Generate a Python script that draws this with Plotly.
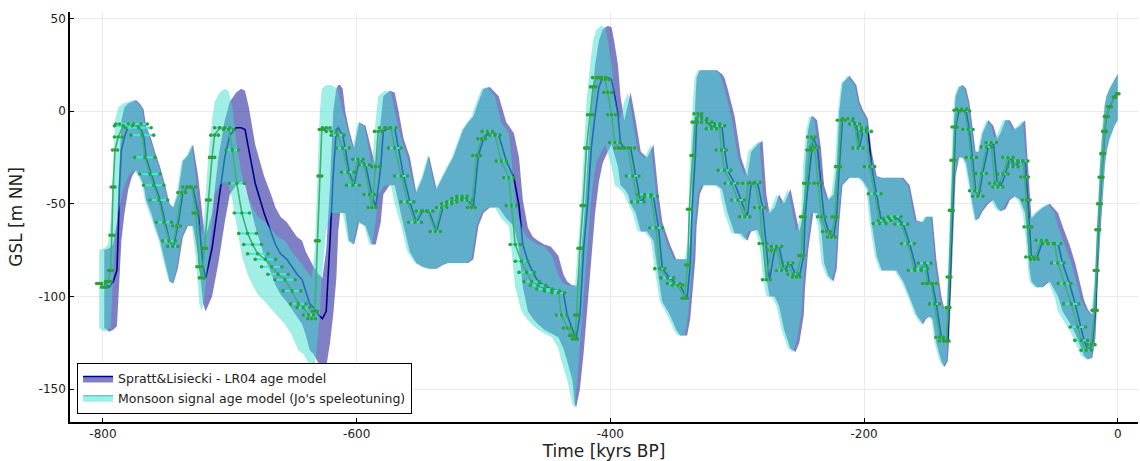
import plotly.graph_objects as go

# ---------------- data ----------------
# monsoon-signal (speleotuned) ages of each sample [kyr BP, negative = past]
mon_age = [
    -803, -799, -796, -794, -793, -792, -790.5, -788, -784, -780, -776, -772, -769, -767, -763, -760, -756, -752, -748, -745, -742, -738, -734, -730, -727, -724, -722, -720, -717, -714, -712, -708, -704, -701, -698, -694.5, -690.5, -686, -682, -678, -672, -667, -662, -656.5, -651, -646,
    -642, -638, -635.5, -633, -631, -629, -627.5, -624, -620, -615, -611, -607, -603, -599, -594, -590, -588, -585, -583, -578, -573, -570, -565, -560, -554, -549, -544, -538, -533, -529, -525, -521, -517, -513, -509.5, -505.5, -501.5, -497, -491, -486, -480,
    -478, -475, -470, -466, -462, -457, -452, -446, -441, -438.5, -434, -430, -428, -426.7, -424, -421.5, -418.8, -416, -413.6, -411, -407, -404, -402, -399, -396.5, -392.6, -389, -386, -382.4, -378.4, -373, -368, -364, -361, -355, -350, -346.9, -341.4, -339, -337.7, -335, -333.5, -331, -328, -324, -320.3, -317.7,
    -313.8, -312.5, -310, -304.6, -299.4, -294, -291.5, -286, -282.3, -279.7, -277, -273, -269, -265, -260, -256, -253.4, -249.5, -248.2, -245.5, -243, -241.5, -239, -236.3, -233.6, -229.7, -225.7, -223, -220.5, -218, -212.7, -207.4, -204.8, -202, -198.2, -195.6, -191.6, -187.7, -183.8, -180, -176, -170.6, -165.4, -160, -155, -152.2, -149.8,
    -147, -144.4, -140.4, -137.5, -135, -133.8, -133, -131.2, -129.9, -128.6, -126, -123, -120.7, -118, -115.4, -112.8, -110.3, -107.6, -103.6, -99.7, -97, -94.5, -90.5, -86.6, -82.6, -78.7, -74.8, -73.4, -72.1, -70.8, -69.5, -65.6, -60.3, -55, -49.8, -47.2, -41.9, -36.6, -31.4, -28.8, -24.8, -20.9, -18.2, -17, -15.7, -14.4, -13.1, -11.8, -10.4, -9, -6.5, -2.5, 0,
]

# LR04 (Spratt & Lisiecki) ages of the same samples
lr04_age = [
    -799, -795, -792, -789, -788, -787, -785.5, -783, -780, -777, -774, -771, -768, -766, -762, -759, -755, -751, -747.5, -744.5, -741, -737, -733, -729, -725, -721, -719, -714, -709, -704, -700, -695, -691, -688, -685, -680, -673, -667, -664, -660, -655, -651, -647, -643, -640, -637,
    -634, -630, -627, -624, -621, -618.5, -616, -614.5, -613, -611, -609, -606, -602, -598, -593, -588, -585, -581, -579, -574, -570, -567, -563, -558, -553, -548, -543, -537, -532, -528, -524, -520, -516, -512, -508, -504, -500, -495, -488, -482, -476,
    -472, -469, -465, -461, -457, -452, -447, -441, -437, -434, -430, -428, -427, -424, -421, -418, -415, -412, -409, -406, -402, -399, -397, -394, -392, -389, -386, -384, -380, -376, -371, -366, -362, -359, -353, -348, -345, -339.5, -337, -335.5, -333, -332, -329.5, -326.5, -322.5, -319, -316,
    -312, -310, -307.5, -302, -297, -292, -289, -284, -280, -277, -274.5, -270.5, -267, -263, -258, -254, -251, -247.5, -246.5, -244, -241.5, -240, -237, -234, -231.5, -228, -224, -221.5, -219.5, -217, -211.5, -206, -203.5, -200.5, -197, -194, -190, -186, -182, -178.5, -174.5, -169, -164, -158.5, -153.5, -151, -148.5,
    -146, -143, -139, -136.5, -134, -133, -132, -130.5, -129, -127.8, -125, -122, -119.5, -117, -114.5, -112, -109.5, -106.5, -102, -98, -95, -92.5, -88.5, -85, -81, -77, -73, -72, -71, -69.5, -68, -64, -59, -53.5, -47, -43.5, -38, -33.5, -29, -26.5, -23.5, -20, -17.5, -16.5, -15.2, -14, -12.8, -11.5, -10.2, -8.8, -6.4, -2.5, 0,
]

# global sea level, median [m]
gsl = [
    -93, -95, -92, -86, -67, -41, -21, -14, -8, -7, -7, -9, -13, -25, -34, -40, -48, -60, -70, -73, -62, -44, -41, -41, -55, -84, -90, -74, -48, -25, -13, -9, -9, -10, -21, -39, -55, -66, -72, -77, -80, -84, -88, -91, -97, -104,
    -106, -110, -112, -108, -70, -35, -10, -9, -11, -13, -20, -33, -40, -26, -29, -45, -52, -30, -11, -9, -9, -20, -35, -49, -60, -54, -54, -65, -52, -50, -49, -47, -46, -48, -52, -24, -15, -11, -13, -27, -36,
    -51, -72, -81, -87, -92, -94, -96, -97, -98, -110, -117, -121, -123, -110, -74, -51, -20, -2, 13, 18, 18, 17, 10, -2, -17, -20, -20, -20, -35, -49, -45, -46, -63, -85, -90, -93, -94, -101, -83, -53, -24, -6, -1.5, -4, -6, -9.5, -7,
    -8, -21, -32, -39, -48, -57, -39, -38.5, -52, -71.5, -91, -75, -73, -86, -82, -88, -89.5, -78, -57, -39, -21, -14, -19.6, -39, -57, -65, -68, -57, -30, -5, -4, -7, -20, -9, -11, -30, -44.6, -60.7, -59, -58, -57, -61, -71.5, -86, -85, -82, -93,
    -93, -104, -122, -124, -124, -106, -89.5, -53.6, -26.6, -8.6, 0.4, 1, 0, -10, -25, -43, -46, -33.7, -19.4, -17, -39, -41, -34, -25, -30, -27, -27, -35.6, -48, -62.5, -78.7, -80, -69.7, -71.5, -71.5, -82, -93, -104, -116.5, -123.7, -129, -126, -107.5, -86, -64, -50, -35.7, -23, -11, -3, 2.3, 7.5, 9.3,
]

# lower / upper edge of the uncertainty band [m]
gsl_lo = [
    -117, -119, -118, -116, -105, -90, -70, -55, -42, -35, -32, -35, -40, -48, -55, -62, -70, -82, -92, -93, -85, -68, -62, -62, -78, -104, -108, -100, -82, -60, -45, -40, -38, -40, -48, -62, -78, -88, -94, -99, -103, -107, -111, -115, -121, -129,
    -131, -136, -139, -138, -125, -110, -90, -65, -55, -55, -55, -70, -72, -60, -62, -72, -72, -60, -45, -40, -40, -50, -62, -76, -82, -84, -85, -85, -83, -82, -82, -82, -82, -82, -80, -62, -55, -52, -52, -58, -62,
    -75, -95, -108, -112, -115, -118, -120, -122, -128, -135, -145, -158, -160, -150, -130, -105, -80, -55, -38, -28, -22, -18, -22, -30, -40, -42, -45, -50, -55, -65, -65, -70, -90, -103, -110, -118, -121, -121, -112, -100, -80, -62, -45, -40, -40, -40, -40,
    -42, -48, -55, -66, -66, -70, -65, -64, -72, -90, -100, -100, -105, -118, -128, -130, -125, -110, -95, -75, -62, -55, -55, -62, -82, -89, -92, -85, -60, -40, -36, -36, -36, -38, -42, -60, -78, -86, -86, -86, -86, -92, -100, -110, -115, -112, -111,
    -112, -125, -135, -138, -135, -125, -112, -80, -55, -35, -25, -25, -28, -38, -50, -59, -58, -54, -50, -48, -52, -54, -53, -48, -46, -48, -55, -65, -72, -85, -92, -95, -95, -92, -100, -108, -114, -120, -128, -132, -134, -133, -122, -105, -85, -70, -55, -42, -30, -22, -15, -8, -5,
]
gsl_hi = [
    -75, -74, -72, -60, -45, -25, -5, 2, 4, 5, 6, 4, 1, -8, -15, -22, -30, -40, -50, -52, -45, -27, -24, -18, -35, -60, -68, -55, -25, -5, 5, 10, 12, 11, 2, -18, -35, -46, -52, -57, -60, -64, -68, -70, -76, -80,
    -84, -88, -90, -75, -40, 0, 12, 14, 14, 12, 0, -10, -20, -6, -8, -22, -30, -5, 8, 11, 10, 0, -15, -25, -44, -36, -24, -42, -35, -30, -25, -18, -10, -6, -3, 5, 12, 13, 8, -6, -12,
    -25, -48, -63, -68, -70, -72, -73, -78, -88, -92, -94, -94, -95, -85, -60, -30, 5, 25, 38, 44, 46, 45, 38, 25, 8, -5, 5, 10, -5, -22, -25, -18, -45, -60, -72, -80, -80, -80, -70, -35, 5, 18, 22, 22, 22, 22, 22,
    20, 18, 12, -3, -25, -35, -22, -18, -16, -45, -55, -52, -45, -50, -42, -55, -65, -55, -30, -10, -3, -3, -5, -20, -40, -48, -45, -30, 0, 15, 19, 14, 5, 0, -4, -22, -35, -36, -36, -36, -36, -36, -40, -59, -60, -57, -57,
    -57, -80, -100, -107, -105, -85, -65, -30, -5, 8, 13, 14, 12, 5, -10, -22, -22, -12, -5, -8, -15, -12, -5, -5, -10, -8, -5, -15, -28, -45, -58, -55, -52, -50, -55, -62, -72, -82, -95, -102, -107, -110, -90, -70, -45, -30, -18, -5, 3, 8, 12, 17, 20,
]

# age uncertainty (half width) of the monsoon ages [kyr]
age_err = [
    2, 2, 2, 1.5, 1.5, 1.5, 2, 3, 7, 10, 11, 10, 9, 8, 8, 8, 7, 6, 5, 4, 3, 3, 3, 3, 2, 2, 2, 1.5, 1.5, 2, 3, 4, 4, 4, 5, 6, 6, 7, 7, 8, 8, 8, 8, 8, 7, 6,
    5, 4, 3, 2, 1.5, 1.5, 2, 3, 4, 5, 5, 5, 5, 4, 4, 4, 3, 3, 3, 4, 4, 5, 5, 5, 5, 4, 4, 4, 4, 4, 4, 4, 4, 4, 3, 3, 3, 4, 4, 4, 4,
    4, 4, 5, 6, 6, 6, 6, 6, 5, 4, 3, 2, 2, 1.5, 1.5, 1.5, 1.5, 2, 2, 3, 3, 3, 3, 3, 4, 4, 5, 5, 5, 5, 5, 5, 5, 4, 5, 5, 4, 2, 1.5, 1.5, 1.5, 2, 3, 4, 4, 4, 4,
    4, 4, 5, 5, 5, 4, 4, 4, 4, 3, 3, 3, 4, 4, 4, 4, 3, 2, 2, 2, 2, 3, 3, 3, 3, 3, 3, 2, 2, 3, 4, 4, 4, 4, 4, 4, 5, 5, 5, 5, 5, 5, 5, 5, 5, 5, 4,
    4, 4, 3, 3, 2, 1.5, 1.5, 1.5, 1.5, 2, 3, 4, 4, 4, 4, 4, 4, 4, 4, 4, 4, 4, 4, 4, 4, 4, 4, 3, 3, 3, 3, 3, 4, 4, 5, 5, 5, 6, 6, 5, 4, 3, 2, 1.5, 1.5, 1.5, 1.5, 1.5, 1.5, 1.5, 1.5, 1, 1,
]

x_ticks = [-800, -600, -400, -200, 0]
x_tick_labels = ["-800", "-600", "-400", "-200", "0"]
y_ticks = [-150, -100, -50, 0, 50]
y_tick_labels = ["-150", "-100", "-50", "0", "50"]

legend_spratt = "Spratt&Lisiecki - LR04 age model"
legend_monsoon = "Monsoon signal age model (Jo's speleotuning)"

# ---------------- figure ----------------
SPRATT_FILL = "rgba(0,0,139,0.5)"
MONSOON_FILL = "rgba(64,224,208,0.5)"
GREEN_LINE = "#3cb371"
GREEN_MARK = "#2f9e3f"
BAR_COLOR = "#40e8d8"

# horizontal age-error segments, built from the data arrays
bar_x, bar_y = [], []
for a, g, e in zip(mon_age, gsl, age_err):
    bar_x += [a - e, a + e, None]
    bar_y += [g, g, None]
cap_x = [a - e for a, e in zip(mon_age, age_err)] + [a + e for a, e in zip(mon_age, age_err)]
cap_y = gsl + gsl

fig = go.Figure()

# Spratt band
fig.add_trace(go.Scatter(
    x=lr04_age + lr04_age[::-1], y=gsl_hi + gsl_lo[::-1],
    fill="toself", fillcolor=SPRATT_FILL, mode="lines",
    line=dict(width=0, color=SPRATT_FILL), showlegend=False, hoverinfo="skip"))
# Spratt median
fig.add_trace(go.Scatter(
    x=lr04_age, y=gsl, mode="lines",
    line=dict(color="#00008b", width=1.6), showlegend=False, hoverinfo="skip"))
# Monsoon band
fig.add_trace(go.Scatter(
    x=mon_age + mon_age[::-1], y=gsl_hi + gsl_lo[::-1],
    fill="toself", fillcolor=MONSOON_FILL, mode="lines",
    line=dict(width=0, color=MONSOON_FILL), showlegend=False, hoverinfo="skip"))
# Monsoon median line
fig.add_trace(go.Scatter(
    x=mon_age, y=gsl, mode="lines",
    line=dict(color=GREEN_LINE, width=1.6),
    showlegend=False, hoverinfo="skip"))
# age error bars
fig.add_trace(go.Scatter(
    x=bar_x, y=bar_y, mode="lines", connectgaps=False,
    line=dict(color=BAR_COLOR, width=2),
    showlegend=False, hoverinfo="skip"))
# error-bar end caps and sample markers
fig.add_trace(go.Scatter(
    x=cap_x + mon_age, y=cap_y + gsl, mode="markers",
    marker=dict(color=GREEN_MARK, size=3.6, symbol="circle", line=dict(width=0)),
    showlegend=False, hoverinfo="skip"))

# legend-only entries
fig.add_trace(go.Scatter(
    x=[None], y=[None], name=legend_spratt, mode="lines",
    fill="toself", fillcolor=SPRATT_FILL, line=dict(color="#00008b", width=1.5)))
fig.add_trace(go.Scatter(
    x=[None], y=[None], name=legend_monsoon, mode="lines",
    fill="toself", fillcolor=MONSOON_FILL, line=dict(color="#40e0d0", width=1.5)))

axis_common = dict(
    showline=True, linecolor="#000000", linewidth=1.5, mirror=False,
    showgrid=True, gridcolor="#ebebeb", gridwidth=1, zeroline=False,
    ticks="inside", ticklen=4, tickcolor="#000000", tickwidth=1,
    tickfont=dict(family="DejaVu Sans", size=12, color="#222222"),
)

fig.update_layout(
    width=1140, height=461,
    margin=dict(l=70, r=2, t=12, b=39),
    paper_bgcolor="white", plot_bgcolor="white",
    font=dict(family="DejaVu Sans", size=12, color="#222222"),
    xaxis=dict(range=[-826, 16], tickvals=x_ticks, ticktext=x_tick_labels,
               title=dict(text="Time [kyrs BP]", font=dict(size=17), standoff=5),
               **axis_common),
    yaxis=dict(range=[-167.7, 53.4], tickvals=y_ticks, ticktext=y_tick_labels,
               title=dict(text="GSL [m NN]", font=dict(size=17), standoff=12),
               **axis_common),
    legend=dict(x=0.0066, y=0.02, xanchor="left", yanchor="bottom",
                bgcolor="white", bordercolor="#000000", borderwidth=1,
                font=dict(family="DejaVu Sans", size=12.5, color="#222222"),
                tracegroupgap=0, itemwidth=30),
    showlegend=True,
    hovermode=False,
)

fig.write_html("out.html")
